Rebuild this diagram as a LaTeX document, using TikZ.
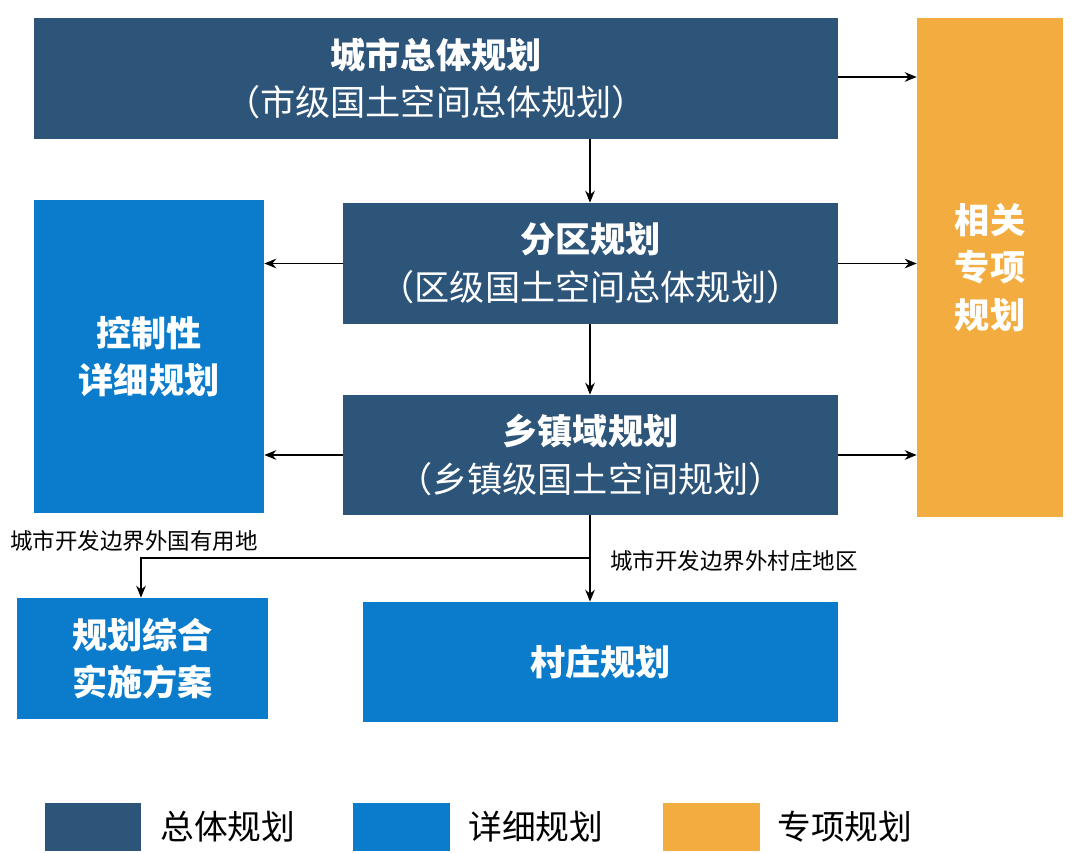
\documentclass[tikz,border=0pt]{standalone}
\usepackage{fontspec}
\setmainfont{Noto Sans CJK SC}
\usetikzlibrary{arrows.meta,positioning}
\definecolor{zongti}{HTML}{2D5479}
\definecolor{xiangxi}{HTML}{0B7CCB}
\definecolor{zhuanxiang}{HTML}{F3AC40}
\begin{document}
\begin{tikzpicture}[x=0.025cm,y=-0.025cm]
\tikzstyle{darkbox}=[fill=zongti,text=white,align=center,inner sep=0pt,font=\fontsize{25}{34}\selectfont]
\tikzstyle{bluebox}=[fill=xiangxi,text=white,align=center,inner sep=0pt,font=\fontsize{25}{34}\selectfont\bfseries]
\tikzstyle{note}=[font=\fontsize{16}{18}\selectfont,inner sep=0pt]
\tikzstyle{arr}=[-{Stealth[length=3mm,width=2.4mm]},thick]
\useasboundingbox (0,0) rectangle (1080,853);
% boxes
\node[darkbox,minimum width=804*0.025cm,minimum height=121*0.025cm] at (436,78.5) (city) {\textbf{城市总体规划}\\（市级国土空间总体规划）};
\node[darkbox,minimum width=495*0.025cm,minimum height=121*0.025cm] at (590.5,263.5) (dist) {\textbf{分区规划}\\（区级国土空间总体规划）};
\node[darkbox,minimum width=495*0.025cm,minimum height=120*0.025cm] at (590.5,455) (town) {\textbf{乡镇域规划}\\（乡镇级国土空间规划）};
\node[bluebox,minimum width=230*0.025cm,minimum height=313*0.025cm] at (149,356.5) (ctrl) {控制性\\详细规划};
\node[bluebox,minimum width=251*0.025cm,minimum height=121*0.025cm] at (142.5,658.5) (impl) {规划综合\\实施方案};
\node[bluebox,minimum width=475*0.025cm,minimum height=120*0.025cm] at (600.5,662) (vill) {村庄规划};
\node[fill=zhuanxiang,text=white,align=center,inner sep=0pt,font=\fontsize{25}{34}\selectfont\bfseries,minimum width=146*0.025cm,minimum height=499*0.025cm] at (990,267.5) (spec) {相关\\专项\\规划};
% arrows
\draw[arr] (city.east|-0,77) -- (spec.west|-0,77);
\draw[arr] (dist.east) -- (spec.west|-dist.east);
\draw[arr] (town.east) -- (spec.west|-town.east);
\draw[arr] (city.south-|590,0) -- (dist.north-|590,0);
\draw[arr] (dist.south-|590,0) -- (town.north-|590,0);
\draw[arr] (dist.west) -- (ctrl.east|-dist.west);
\draw[arr] (town.west) -- (ctrl.east|-town.west);
\draw[arr] (town.south-|590,0) -- (vill.north-|590,0);
\coordinate (split) at (590,558);
\draw[arr] (split) -- (141,558) -- (impl.north-|141,0);
\node[note,anchor=west] at (10,541) (lab1) {城市开发边界外国有用地};
\node[note,anchor=west] at (610,561) (lab2) {城市开发边界外村庄地区};
% legend
\tikzstyle{legtext}=[anchor=west,inner sep=0pt,font=\fontsize{24}{28}\selectfont]
\fill[zongti] (45,803) rectangle (141,851);
\node[legtext] at (160,827) (l1) {总体规划};
\fill[xiangxi] (353,803) rectangle (450,851);
\node[legtext] at (468,827) (l2) {详细规划};
\fill[zhuanxiang] (663,803) rectangle (760,851);
\node[legtext] at (777,827) (l3) {专项规划};
\end{tikzpicture}
\end{document}
